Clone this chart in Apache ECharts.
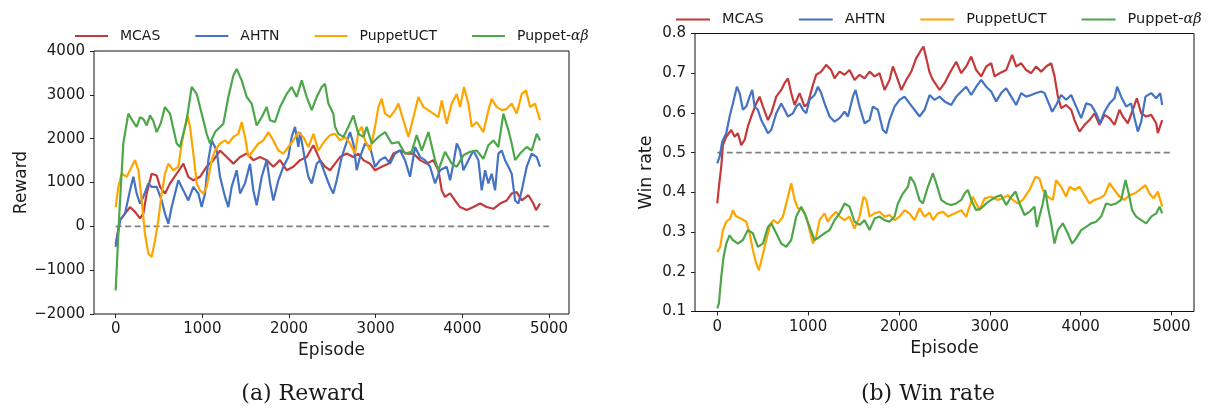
<!DOCTYPE html>
<html>
<head>
<meta charset="utf-8">
<script src="https://cdn.jsdelivr.net/npm/echarts@6/dist/echarts.min.js"></script>
<style>
html,body{margin:0;padding:0;background:#fff;}
#chart{width:1227px;height:412px;}
</style>
</head>
<body>
<div id="chart"></div>
<script>
// ---------- data ----------
const seriesNames = ['MCAS', 'AHTN', 'PuppetUCT', 'Puppet-αβ'];
const xTickValues = [0, 1000, 2000, 3000, 4000, 5000];

// (a) Reward
const mcasRewardEp = [0,50,108,165,223,281,319,358,415,473,512,569,627,704,781,838,896,973,1050,1127,1204,1281,1358,1435,1512,1588,1665,1742,1819,1896,1973,2050,2127,2204,2281,2358,2415,2473,2531,2588,2665,2742,2800,2858,2935,2992,3069,3146,3204,3281,3358,3435,3512,3588,3665,3723,3762,3800,3858,3915,3973,4050,4127,4204,4281,4358,4435,4512,4569,4627,4685,4762,4819,4850,4896];
const mcasReward = [-400,140,290,440,330,180,290,750,1200,1160,900,750,980,1200,1430,1130,1050,1130,1360,1510,1730,1580,1430,1580,1660,1510,1580,1510,1360,1510,1280,1360,1510,1580,1850,1510,1360,1280,1430,1580,1660,1580,1660,1510,1430,1280,1360,1430,1660,1730,1660,1660,1510,1430,1510,1280,820,670,750,590,440,370,440,520,440,400,520,590,750,780,590,710,520,370,520];

const ahtnRewardEp = [0,50,108,165,204,242,281,319,377,415,473,531,569,608,646,723,781,838,896,954,992,1031,1069,1108,1165,1204,1262,1300,1338,1396,1435,1492,1550,1588,1627,1685,1742,1781,1819,1877,1935,1992,2031,2069,2108,2127,2185,2223,2262,2319,2358,2415,2473,2511,2550,2608,2646,2704,2742,2781,2819,2877,2935,2992,3050,3108,3165,3223,3281,3338,3396,3454,3512,3569,3627,3685,3742,3819,3858,3896,3935,3973,4012,4069,4127,4185,4223,4262,4300,4338,4377,4415,4454,4492,4531,4569,4608,4646,4685,4742,4800,4858,4896];
const ahtnReward = [-470,140,290,820,1130,750,520,670,980,900,900,590,290,60,440,1050,820,590,900,750,440,750,1510,1960,1730,1130,670,440,900,1280,750,980,1430,820,480,1130,1510,980,590,1050,1360,1580,2040,2270,1810,2150,1510,1130,980,1430,1510,1200,900,750,1050,1580,1810,2150,1890,1280,1580,1890,1810,1360,1510,1580,1430,1660,1730,1510,1130,1810,1580,1510,1360,980,1280,1360,1050,1430,1890,1730,1280,1510,1730,1510,820,1280,980,1200,820,1660,1730,1510,1360,1200,590,520,820,1360,1660,1580,1360];

const puctRewardEp = [0,31,69,127,185,223,262,300,338,377,415,454,492,531,569,608,665,723,762,800,827,858,896,935,973,1012,1050,1108,1146,1204,1262,1300,1358,1415,1454,1492,1531,1588,1646,1704,1762,1819,1877,1935,1992,2050,2108,2165,2223,2281,2338,2415,2473,2531,2588,2646,2704,2761,2800,2838,2877,2935,2992,3031,3069,3108,3165,3223,3262,3319,3377,3435,3492,3550,3608,3665,3723,3762,3819,3877,3935,3973,4019,4069,4108,4165,4204,4242,4300,4338,4396,4454,4512,4569,4627,4685,4735,4781,4838,4896];
const puctReward = [440,900,1200,1130,1360,1510,1280,590,-170,-620,-700,-320,140,750,1200,1430,1280,1360,1890,2270,2530,2270,1660,980,820,750,900,1510,1730,1890,1960,1890,2040,2110,2380,2040,1580,1730,1890,1960,2150,1960,1730,1660,1810,1960,2150,2040,1810,2110,1730,1960,2080,2110,1960,2040,1890,1660,2150,2270,1960,1730,2270,2720,2910,2570,2490,2650,2800,2420,2040,2490,2950,2720,2650,2570,2490,2870,2340,2800,3020,2720,3180,2800,2270,2380,2270,2150,2650,2910,2720,2650,2680,2800,2570,3020,3100,2720,2800,2420];

const pabRewardEp = [0,40,88,146,204,242,281,319,358,396,435,473,520,569,627,704,742,819,877,935,973,1050,1088,1146,1242,1300,1358,1396,1454,1512,1569,1627,1685,1742,1781,1838,1896,1973,2031,2088,2146,2204,2262,2319,2377,2415,2454,2511,2531,2569,2627,2685,2742,2800,2858,2896,2954,3031,3108,3185,3262,3338,3415,3473,3531,3608,3685,3723,3800,3877,3935,4012,4088,4165,4242,4300,4358,4415,4473,4531,4569,4608,4665,4742,4800,4858,4896];
const pabReward = [-1460,200,1890,2570,2380,2270,2490,2450,2300,2530,2400,2150,2350,2720,2570,1890,1810,2420,3180,3020,2720,2110,1890,2150,2340,2950,3440,3590,3330,2950,2800,2300,2490,2720,2420,2380,2720,3020,3180,2950,3330,2950,2650,2950,3180,3250,2800,2570,2270,2110,2040,2270,2530,2110,2040,2270,1890,2040,2150,1890,1920,1660,1700,2080,1730,2150,1510,1280,1700,1430,1360,1620,1700,1730,1540,1850,1960,1810,2570,2190,1890,1510,1660,1810,1730,2110,1960];

// (b) Win rate
const mcasWinEp = [0,18,44,62,99,154,191,227,264,301,337,374,429,466,503,558,594,649,704,741,778,814,851,906,961,998,1053,1089,1144,1199,1254,1291,1346,1401,1456,1511,1566,1621,1676,1731,1786,1841,1896,1933,1988,2025,2080,2135,2190,2245,2270,2300,2337,2373,2447,2502,2557,2630,2685,2740,2795,2850,2905,2960,3015,3052,3107,3180,3246,3290,3345,3400,3455,3510,3565,3620,3675,3712,3749,3785,3840,3895,3932,3987,4042,4097,4152,4207,4262,4317,4372,4427,4464,4519,4574,4618,4666,4721,4776,4831,4849,4897];
const mcasWin = [0.372,0.414,0.465,0.519,0.540,0.557,0.540,0.549,0.519,0.532,0.566,0.591,0.624,0.641,0.616,0.582,0.599,0.641,0.658,0.675,0.687,0.650,0.620,0.650,0.616,0.624,0.671,0.696,0.704,0.721,0.708,0.687,0.704,0.696,0.708,0.683,0.696,0.687,0.704,0.692,0.700,0.658,0.683,0.717,0.683,0.658,0.683,0.704,0.738,0.759,0.767,0.738,0.702,0.683,0.658,0.675,0.700,0.729,0.700,0.717,0.742,0.708,0.692,0.717,0.725,0.692,0.700,0.708,0.746,0.717,0.725,0.708,0.700,0.717,0.704,0.717,0.725,0.692,0.641,0.612,0.620,0.608,0.582,0.553,0.570,0.582,0.599,0.570,0.595,0.587,0.570,0.608,0.591,0.574,0.608,0.637,0.599,0.591,0.595,0.574,0.549,0.582];

const ahtnWinEp = [0,26,55,99,136,172,216,246,282,319,356,385,411,447,484,521,558,594,649,704,741,778,833,869,906,943,979,1016,1071,1108,1144,1181,1236,1291,1346,1401,1438,1493,1522,1566,1621,1676,1713,1768,1823,1860,1896,1951,2006,2061,2116,2171,2226,2282,2337,2391,2447,2502,2575,2630,2685,2740,2795,2850,2905,2960,3015,3070,3125,3180,3235,3290,3345,3400,3455,3510,3565,3602,3649,3686,3730,3785,3840,3895,3950,4005,4060,4115,4170,4214,4262,4317,4372,4401,4445,4500,4555,4592,4629,4666,4713,4776,4831,4875,4897];
const ahtnWin = [0.473,0.490,0.528,0.549,0.591,0.624,0.666,0.650,0.608,0.616,0.641,0.658,0.616,0.608,0.582,0.566,0.549,0.557,0.599,0.624,0.608,0.591,0.599,0.616,0.624,0.608,0.599,0.633,0.645,0.666,0.650,0.624,0.591,0.578,0.587,0.603,0.591,0.641,0.658,0.616,0.574,0.582,0.616,0.608,0.557,0.549,0.582,0.616,0.633,0.641,0.624,0.608,0.591,0.608,0.645,0.633,0.641,0.629,0.620,0.641,0.654,0.666,0.645,0.666,0.683,0.666,0.654,0.629,0.650,0.662,0.641,0.620,0.650,0.641,0.645,0.650,0.654,0.650,0.624,0.603,0.620,0.645,0.633,0.645,0.616,0.587,0.624,0.620,0.599,0.574,0.603,0.624,0.637,0.666,0.641,0.616,0.624,0.587,0.553,0.578,0.641,0.650,0.637,0.650,0.620];

const puctWinEp = [0,33,62,99,143,172,209,264,319,356,392,429,458,495,539,576,613,668,723,778,814,851,888,943,979,1016,1053,1089,1126,1181,1218,1254,1309,1346,1401,1456,1511,1566,1610,1640,1676,1731,1786,1841,1896,1951,2006,2061,2116,2171,2226,2282,2337,2373,2428,2484,2538,2612,2685,2740,2813,2887,2942,3015,3088,3143,3198,3253,3308,3363,3436,3502,3546,3583,3638,3693,3730,3785,3840,3877,3932,3987,4042,4097,4152,4207,4262,4317,4372,4427,4482,4537,4592,4647,4713,4757,4801,4849,4897];
const puctWin = [0.250,0.263,0.305,0.326,0.334,0.355,0.339,0.334,0.326,0.297,0.255,0.221,0.204,0.238,0.280,0.313,0.330,0.322,0.339,0.389,0.423,0.381,0.360,0.355,0.339,0.305,0.271,0.288,0.330,0.347,0.326,0.339,0.351,0.339,0.330,0.339,0.309,0.339,0.389,0.381,0.339,0.347,0.351,0.339,0.343,0.330,0.339,0.355,0.347,0.330,0.360,0.339,0.349,0.330,0.347,0.351,0.339,0.347,0.355,0.339,0.389,0.355,0.385,0.389,0.381,0.385,0.393,0.381,0.372,0.381,0.406,0.439,0.435,0.406,0.389,0.381,0.431,0.414,0.389,0.414,0.406,0.414,0.393,0.372,0.381,0.385,0.393,0.423,0.406,0.389,0.381,0.393,0.397,0.406,0.418,0.397,0.385,0.402,0.364];

const pabWinEp = [0,18,44,70,99,136,172,227,282,337,392,447,503,558,594,649,704,759,814,869,924,961,1016,1071,1126,1181,1236,1291,1346,1401,1456,1511,1566,1621,1676,1731,1786,1841,1896,1951,1988,2043,2098,2124,2171,2226,2263,2318,2373,2410,2465,2520,2575,2630,2685,2722,2758,2795,2850,2905,2960,3015,3070,3125,3180,3235,3283,3327,3382,3436,3491,3517,3546,3583,3609,3638,3675,3712,3749,3803,3858,3906,3950,4005,4060,4115,4170,4225,4280,4335,4390,4445,4493,4529,4566,4610,4666,4721,4776,4831,4868,4897];
const pabWin = [0.108,0.120,0.187,0.238,0.271,0.292,0.280,0.271,0.280,0.305,0.297,0.263,0.271,0.313,0.322,0.297,0.271,0.263,0.280,0.339,0.364,0.347,0.313,0.280,0.288,0.297,0.305,0.330,0.347,0.372,0.364,0.326,0.318,0.330,0.305,0.334,0.339,0.330,0.326,0.339,0.372,0.397,0.414,0.439,0.423,0.381,0.372,0.414,0.448,0.423,0.381,0.372,0.368,0.372,0.381,0.397,0.406,0.381,0.355,0.360,0.372,0.381,0.389,0.393,0.368,0.389,0.402,0.372,0.343,0.351,0.364,0.313,0.339,0.372,0.406,0.364,0.322,0.271,0.305,0.322,0.297,0.271,0.284,0.305,0.313,0.322,0.326,0.339,0.372,0.368,0.372,0.381,0.431,0.397,0.355,0.339,0.330,0.322,0.339,0.347,0.364,0.347];

const rewardBaselineEp = [0, 5000];
const rewardBaseline = [0, 0];
const winBaselineEp = [0, 5000];
const winBaseline = [0.5, 0.5];

// ---------- chart ----------
const colors = ['#c43a3a', '#4472c4', '#ffa500', '#4ea64a'];
const FONT = 'DejaVu Sans';
const TXT = '#1a1a1a';
const zip = (xs, ys) => xs.map((x, i) => [x, ys[i]]);

const rewardSets = [zip(mcasRewardEp, mcasReward), zip(ahtnRewardEp, ahtnReward), zip(puctRewardEp, puctReward), zip(pabRewardEp, pabReward)];
const winSets = [zip(mcasWinEp, mcasWin), zip(ahtnWinEp, ahtnWin), zip(puctWinEp, puctWin), zip(pabWinEp, pabWin)];

function lineSeries(name, data, idx, axisIdx) {
  return {
    name: name, type: 'line', data: data, xAxisIndex: axisIdx, yAxisIndex: axisIdx,
    showSymbol: false, symbol: 'none', color: colors[idx],
    lineStyle: { width: 2.2, color: colors[idx] }, z: 3 + idx, animation: false
  };
}
function baseSeries(xs, ys, axisIdx) {
  return {
    name: 'baseline', type: 'line', data: zip(xs, ys), xAxisIndex: axisIdx, yAxisIndex: axisIdx,
    showSymbol: false, symbol: 'none', silent: true, z: 2, animation: false,
    lineStyle: { width: 1.6, color: '#808080', type: [6, 3.5] }
  };
}
function legendCfg(left, top, fs, iw) {
  return {
    data: seriesNames, left: left, top: top, orient: 'horizontal',
    icon: 'rect', itemWidth: iw, itemHeight: 2, itemGap: 35,
    formatter: n => n === 'Puppet-αβ' ? '{n|Puppet-}{g|αβ}' : '{n|' + n + '}',
    textStyle: {
      color: TXT, padding: [0, 0, 0, 7],
      rich: {
        n: { fontFamily: FONT, fontSize: fs, color: TXT },
        g: { fontFamily: 'DejaVu Serif', fontStyle: 'italic', fontSize: fs, color: TXT }
      }
    }
  };
}
function xAxisCfg(gi, min, max, fs, nfs, gap) {
  return {
    type: 'value', gridIndex: gi, min: min, max: max,
    name: 'Episode', nameLocation: 'middle', nameGap: gap,
    nameTextStyle: { fontFamily: FONT, fontSize: nfs, color: TXT },
    axisLine: { show: false, onZero: false },
    axisTick: { show: true, length: 4, inside: false, customValues: xTickValues, lineStyle: { color: '#222', width: 1 } },
    axisLabel: { customValues: xTickValues, fontFamily: FONT, fontSize: fs, color: TXT, margin: 8,
      formatter: v => String(v) },
    splitLine: { show: false }
  };
}

const option = {
  backgroundColor: '#ffffff',
  animation: false,
  legend: [legendCfg(70, 24, 14, 33), legendCfg(671, 7, 14.5, 34)],
  grid: [
    { left: 94, top: 51, width: 475, height: 263, show: true, borderColor: '#111', borderWidth: 1, backgroundColor: 'transparent' },
    { left: 695, top: 33.5, width: 499, height: 278, show: true, borderColor: '#111', borderWidth: 1, backgroundColor: 'transparent' }
  ],
  xAxis: [
    xAxisCfg(0, -250, 5230, 15, 17, 27),
    xAxisCfg(1, -245, 5247, 15, 17.5, 27)
  ],
  yAxis: [
    {
      type: 'value', gridIndex: 0, min: -2000, max: 4000, interval: 1000,
      name: 'Reward', nameLocation: 'middle', nameGap: 62,
      nameTextStyle: { fontFamily: FONT, fontSize: 17, color: TXT },
      axisLine: { show: false, onZero: false },
      axisTick: { show: true, length: 4, lineStyle: { color: '#222', width: 1 } },
      axisLabel: { fontFamily: FONT, fontSize: 15, color: TXT, margin: 9,
        formatter: v => v < 0 ? '\u2212' + Math.abs(v) : String(v) },
      splitLine: { show: false }
    },
    {
      type: 'value', gridIndex: 1, min: 0.1, max: 0.8, interval: 0.1,
      name: 'Win rate', nameLocation: 'middle', nameGap: 40,
      nameTextStyle: { fontFamily: FONT, fontSize: 17.5, color: TXT },
      axisLine: { show: false, onZero: false },
      axisTick: { show: true, length: 4, lineStyle: { color: '#222', width: 1 } },
      axisLabel: { fontFamily: FONT, fontSize: 15, color: TXT, margin: 9,
        formatter: v => v.toFixed(1) },
      splitLine: { show: false }
    }
  ],
  series: [
    baseSeries(rewardBaselineEp, rewardBaseline, 0),
    ...seriesNames.map((n, i) => lineSeries(n, rewardSets[i], i, 0)),
    baseSeries(winBaselineEp, winBaseline, 1),
    ...seriesNames.map((n, i) => lineSeries(n, winSets[i], i, 1))
  ],
  graphic: [
    { type: 'text', x: 303, y: 394, style: { text: '(a) Reward', font: '22px "DejaVu Serif"', fill: TXT, align: 'center', verticalAlign: 'middle' } },
    { type: 'text', x: 928, y: 394, style: { text: '(b) Win rate', font: '22px "DejaVu Serif"', fill: TXT, align: 'center', verticalAlign: 'middle' } }
  ]
};

const chart = echarts.init(document.getElementById('chart'), null, { renderer: 'canvas' });
chart.setOption(option);
</script>
</body>
</html>
